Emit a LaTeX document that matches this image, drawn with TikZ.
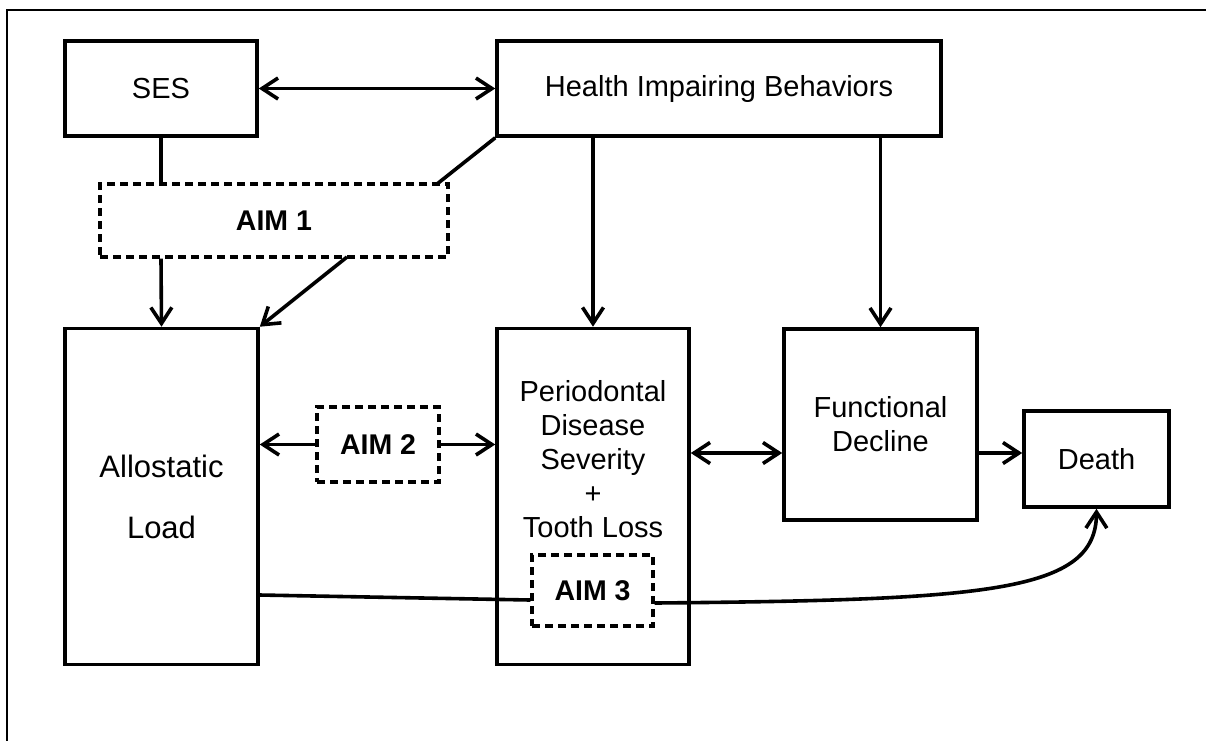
\documentclass[tikz,border=0pt]{standalone}
\usepackage{fontspec}
\setmainfont{Liberation Sans}
\usetikzlibrary{arrows.meta}
\begin{document}
\begin{tikzpicture}[x=1pt,y=-1pt,
  barb/.tip={Straight Barb[length=16pt,width=21pt,line width=3.6pt]},
  box/.style={draw,line width=3.6pt,inner sep=0pt,align=center,font=\fontsize{29}{34}\selectfont},
  aimbox/.style={draw,dash pattern=on 8pt off 5pt,line width=3.4pt,inner sep=0pt,font=\fontsize{28.5}{34}\selectfont\bfseries},
  link/.style={line width=3.6pt},
  arr/.style={link,-barb},
  darr/.style={link,barb-barb}
]
\useasboundingbox (0,0) rectangle (1206,740);
% frame
\draw[line width=2.4pt] (7,745) -- (7,10) -- (1211,10);

% main boxes
\node[box,minimum width=192pt,minimum height=95pt] (ses) at (161,88.5) {SES};
\node[box,minimum width=444pt,minimum height=95pt] (hib) at (719,88.5) {Health Impairing Behaviors};
\node[box,minimum width=193pt,minimum height=336pt] (al) at (161.5,496.5) {};
\node[font=\fontsize{31}{61}\selectfont,align=center] (altext) at (161.5,496.5) {Allostatic\\Load};
\node[box,minimum width=192pt,minimum height=336pt] (pd) at (593,496.5) {};
\node[font=\fontsize{29}{34}\selectfont,align=center] (pdtext) at (593,459) {Periodontal\\Disease\\Severity\\+\\Tooth Loss};
\node[box,minimum width=193pt,minimum height=191pt] (fd) at (880.5,424.5) {Functional\\Decline};
\node[box,minimum width=145pt,minimum height=96pt] (death) at (1096.5,459) {Death};

% aim boxes
\node[aimbox,minimum width=348pt,minimum height=73pt] (aim1) at (274,220.5) {AIM 1};
\node[aimbox,minimum width=122pt,minimum height=75pt] (aim2) at (378,444.5) {AIM 2};
\node[aimbox,minimum width=121pt,minimum height=71pt] (aim3) at (592.5,590.5) {AIM 3};

% connectors
\draw[darr] (ses.east) -- (hib.west);
\draw[link] (ses.south) -- (ses.south |- aim1.north);
\draw[arr] (ses.south |- aim1.south) -- (al.north);
\draw[link] (hib.south west) -- (437,184);
\draw[arr] (347,257) -- (al.north east);
\draw[arr] (hib.south -| pd.north) -- (pd.north);
\draw[arr] (hib.south -| fd.north) -- (fd.north);
\draw[link,barb-] (al.east |- aim2.west) -- (aim2.west);
\draw[arr] (aim2.east) -- (aim2.east -| pd.west);
\draw[darr] (pd.east |- 0,453) -- (fd.west |- 0,453);
\draw[arr] (fd.east |- 0,453) -- (death.west |- 0,453);
\draw[link] (al.east |- 0,595) -- (aim3.west |- 0,600);
\draw[arr] (aim3.east |- 0,603) .. controls (990,600) and (1096,592) .. (death.south);
\end{tikzpicture}
\end{document}
